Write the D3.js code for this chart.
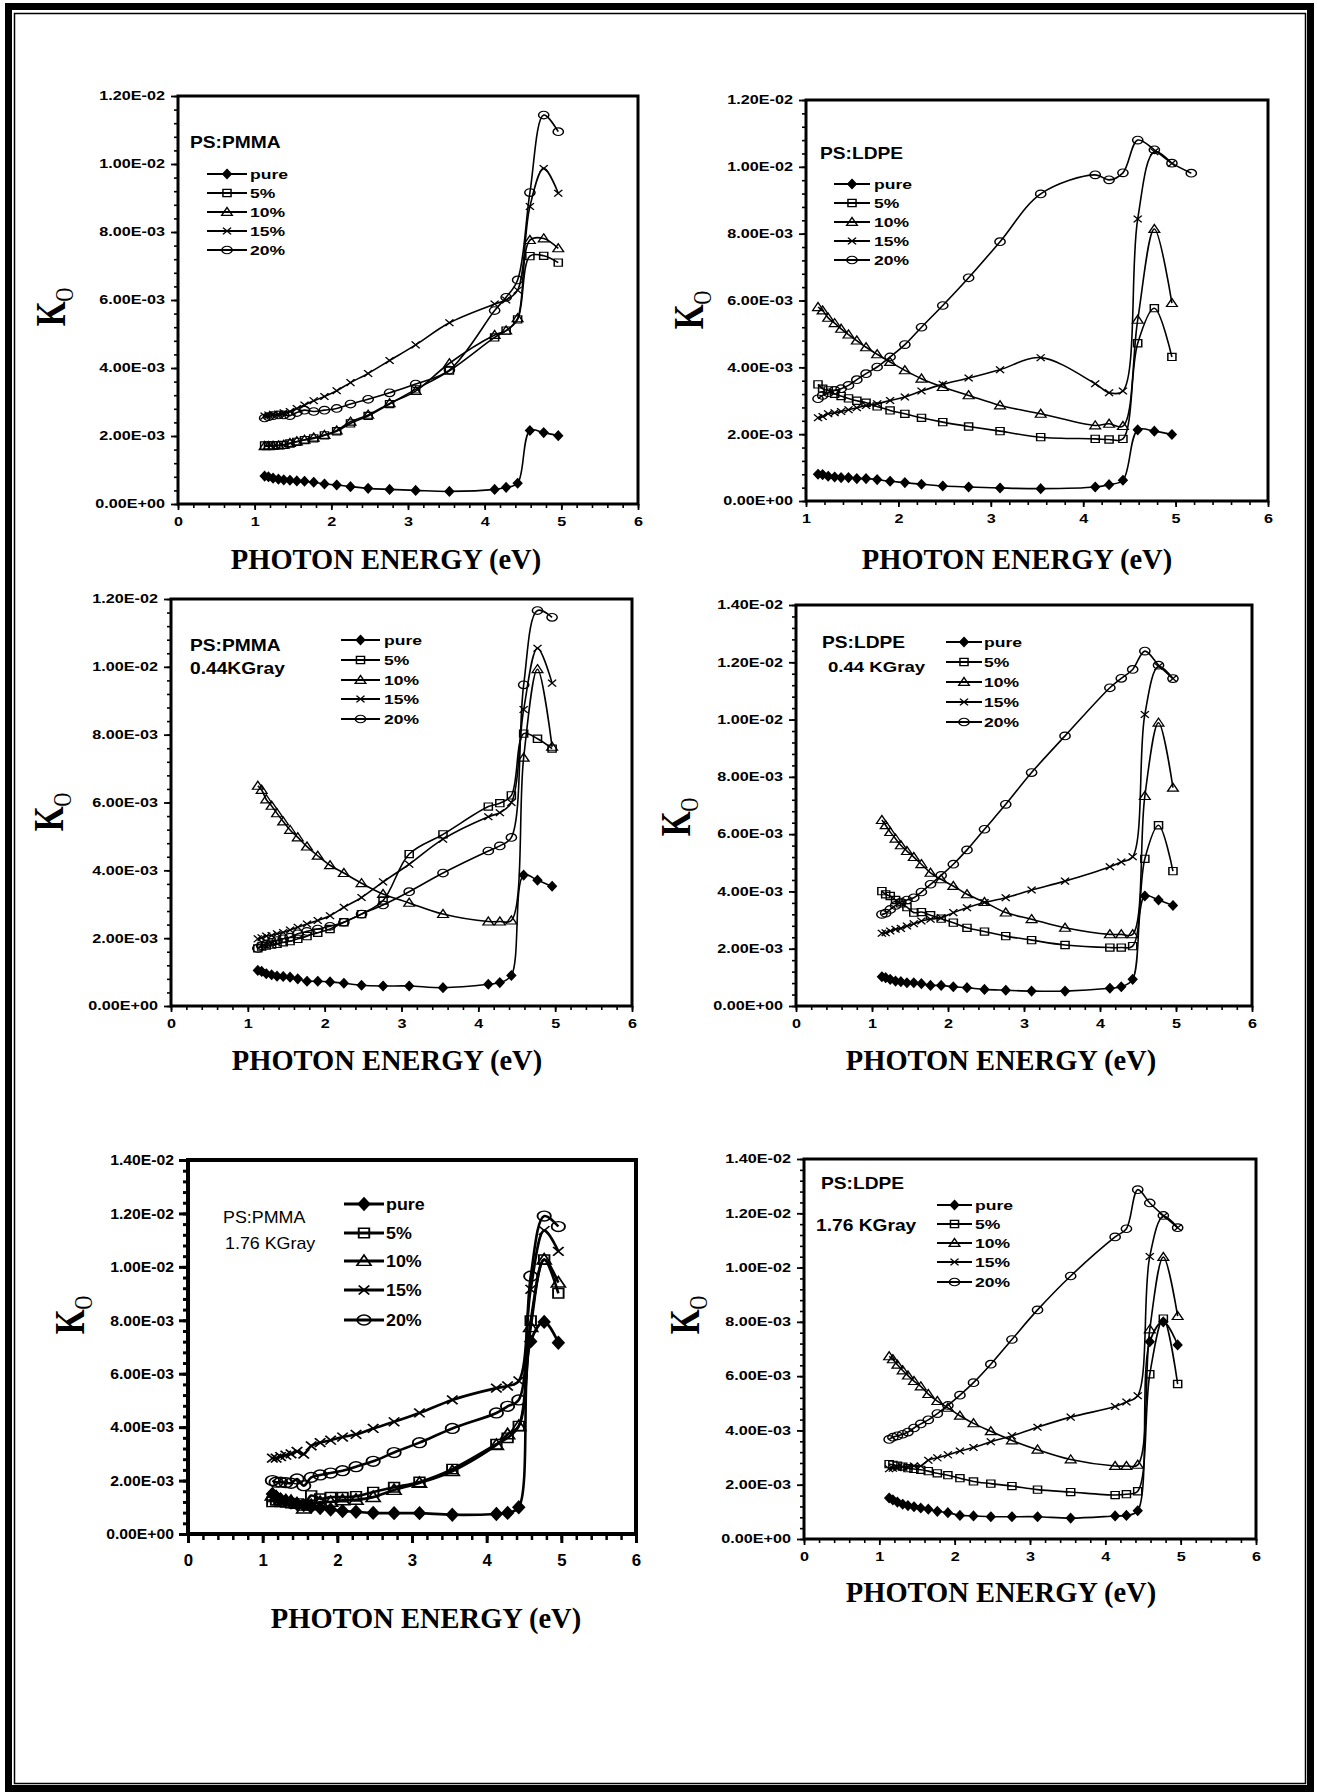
<!DOCTYPE html>
<html><head><meta charset="utf-8">
<script src="https://cdn.jsdelivr.net/npm/d3@7"></script>
<style>body{margin:0;background:#fff}svg{display:block}</style>
</head><body>
<svg id="c" width="1317" height="1792"></svg>
<script>
// ---------------- DATA ----------------
const seriesNames = ["pure", "5%", "10%", "15%", "20%"];
const energy = [1.13, 1.18, 1.24, 1.31, 1.38, 1.46, 1.55, 1.65, 1.77, 1.91, 2.07, 2.25, 2.48, 2.76, 3.10, 3.54, 4.13, 4.28, 4.43, 4.59, 4.77, 4.96];
const energyExt = [1.13, 1.18, 1.24, 1.31, 1.38, 1.46, 1.55, 1.65, 1.77, 1.91, 2.07, 2.25, 2.48, 2.76, 3.10, 3.54, 4.13, 4.28, 4.43, 4.59, 4.77, 4.96, 5.17];

const yTickLabels12 = ["0.00E+00", "2.00E-03", "4.00E-03", "6.00E-03", "8.00E-03", "1.00E-02", "1.20E-02"];
const yTickLabels14 = ["0.00E+00", "2.00E-03", "4.00E-03", "6.00E-03", "8.00E-03", "1.00E-02", "1.20E-02", "1.40E-02"];
const xTickLabels0 = ["0", "1", "2", "3", "4", "5", "6"];
const xTickLabels1 = ["1", "2", "3", "4", "5", "6"];

// Panel 1: PS:PMMA (unirradiated)
const pmma0_pure = [0.82e-3, 0.80e-3, 0.76e-3, 0.73e-3, 0.71e-3, 0.70e-3, 0.68e-3, 0.67e-3, 0.64e-3, 0.59e-3, 0.56e-3, 0.51e-3, 0.46e-3, 0.43e-3, 0.40e-3, 0.37e-3, 0.43e-3, 0.49e-3, 0.61e-3, 2.16e-3, 2.10e-3, 2.01e-3];
const pmma0_5 = [1.72e-3, 1.72e-3, 1.72e-3, 1.73e-3, 1.74e-3, 1.78e-3, 1.83e-3, 1.88e-3, 1.93e-3, 2.02e-3, 2.14e-3, 2.37e-3, 2.59e-3, 2.94e-3, 3.37e-3, 3.92e-3, 4.90e-3, 5.10e-3, 5.43e-3, 7.29e-3, 7.30e-3, 7.10e-3];
const pmma0_10 = [1.70e-3, 1.70e-3, 1.71e-3, 1.72e-3, 1.74e-3, 1.79e-3, 1.84e-3, 1.89e-3, 1.95e-3, 2.03e-3, 2.16e-3, 2.42e-3, 2.62e-3, 2.96e-3, 3.32e-3, 4.14e-3, 4.97e-3, 5.10e-3, 5.46e-3, 7.76e-3, 7.81e-3, 7.52e-3];
const pmma0_15 = [2.59e-3, 2.62e-3, 2.64e-3, 2.65e-3, 2.68e-3, 2.72e-3, 2.81e-3, 2.91e-3, 3.04e-3, 3.16e-3, 3.33e-3, 3.57e-3, 3.84e-3, 4.22e-3, 4.68e-3, 5.33e-3, 5.88e-3, 6.00e-3, 6.29e-3, 8.75e-3, 9.87e-3, 9.14e-3];
const pmma0_20 = [2.53e-3, 2.57e-3, 2.60e-3, 2.62e-3, 2.62e-3, 2.60e-3, 2.69e-3, 2.76e-3, 2.72e-3, 2.76e-3, 2.81e-3, 2.94e-3, 3.08e-3, 3.27e-3, 3.53e-3, 3.94e-3, 5.69e-3, 6.08e-3, 6.59e-3, 9.16e-3, 11.44e-3, 10.95e-3];

// Panel 2: PS:LDPE (unirradiated)
const ldpe0_pure = [0.80e-3, 0.79e-3, 0.74e-3, 0.72e-3, 0.70e-3, 0.70e-3, 0.67e-3, 0.67e-3, 0.64e-3, 0.59e-3, 0.55e-3, 0.50e-3, 0.45e-3, 0.42e-3, 0.39e-3, 0.37e-3, 0.42e-3, 0.49e-3, 0.62e-3, 2.13e-3, 2.09e-3, 1.99e-3];
const ldpe0_5 = [3.49e-3, 3.36e-3, 3.31e-3, 3.21e-3, 3.14e-3, 3.07e-3, 3.00e-3, 2.94e-3, 2.83e-3, 2.71e-3, 2.61e-3, 2.49e-3, 2.36e-3, 2.23e-3, 2.09e-3, 1.91e-3, 1.86e-3, 1.84e-3, 1.86e-3, 4.72e-3, 5.77e-3, 4.31e-3];
const ldpe0_10 = [5.80e-3, 5.70e-3, 5.48e-3, 5.32e-3, 5.15e-3, 4.98e-3, 4.80e-3, 4.60e-3, 4.39e-3, 4.16e-3, 3.91e-3, 3.66e-3, 3.41e-3, 3.16e-3, 2.86e-3, 2.61e-3, 2.26e-3, 2.31e-3, 2.24e-3, 5.42e-3, 8.14e-3, 5.92e-3];
const ldpe0_15 = [2.49e-3, 2.53e-3, 2.61e-3, 2.64e-3, 2.68e-3, 2.73e-3, 2.79e-3, 2.86e-3, 2.91e-3, 3.01e-3, 3.11e-3, 3.29e-3, 3.49e-3, 3.68e-3, 3.93e-3, 4.29e-3, 3.51e-3, 3.24e-3, 3.29e-3, 8.44e-3, 10.45e-3, 10.10e-3];
const ldpe0_20 = [3.06e-3, 3.16e-3, 3.24e-3, 3.31e-3, 3.36e-3, 3.46e-3, 3.63e-3, 3.81e-3, 4.01e-3, 4.31e-3, 4.68e-3, 5.20e-3, 5.85e-3, 6.68e-3, 7.76e-3, 9.19e-3, 9.76e-3, 9.61e-3, 9.82e-3, 10.80e-3, 10.51e-3, 10.11e-3, 9.81e-3];

// Panel 3: PS:PMMA 0.44 KGray
const pmma44_pure = [1.05e-3, 1.02e-3, 0.95e-3, 0.92e-3, 0.88e-3, 0.87e-3, 0.85e-3, 0.80e-3, 0.73e-3, 0.73e-3, 0.71e-3, 0.67e-3, 0.61e-3, 0.59e-3, 0.59e-3, 0.54e-3, 0.64e-3, 0.69e-3, 0.90e-3, 3.86e-3, 3.71e-3, 3.53e-3];
const pmma44_5 = [1.70e-3, 1.75e-3, 1.78e-3, 1.81e-3, 1.83e-3, 1.88e-3, 1.91e-3, 1.98e-3, 2.06e-3, 2.16e-3, 2.27e-3, 2.47e-3, 2.71e-3, 3.11e-3, 4.48e-3, 5.06e-3, 5.88e-3, 5.98e-3, 6.21e-3, 8.03e-3, 7.88e-3, 7.59e-3];
const pmma44_10 = [6.49e-3, 6.37e-3, 6.09e-3, 5.90e-3, 5.68e-3, 5.44e-3, 5.19e-3, 4.97e-3, 4.70e-3, 4.43e-3, 4.15e-3, 3.92e-3, 3.62e-3, 3.30e-3, 3.04e-3, 2.71e-3, 2.49e-3, 2.49e-3, 2.52e-3, 7.32e-3, 9.93e-3, 7.64e-3];
const pmma44_15 = [1.98e-3, 2.01e-3, 2.06e-3, 2.08e-3, 2.13e-3, 2.17e-3, 2.24e-3, 2.32e-3, 2.42e-3, 2.52e-3, 2.66e-3, 2.91e-3, 3.20e-3, 3.66e-3, 4.18e-3, 4.92e-3, 5.58e-3, 5.70e-3, 6.00e-3, 8.74e-3, 10.55e-3, 9.52e-3];
const pmma44_20 = [1.70e-3, 1.78e-3, 1.83e-3, 1.88e-3, 1.93e-3, 1.98e-3, 2.03e-3, 2.13e-3, 2.20e-3, 2.27e-3, 2.35e-3, 2.47e-3, 2.71e-3, 2.98e-3, 3.37e-3, 3.92e-3, 4.57e-3, 4.72e-3, 4.97e-3, 9.47e-3, 11.66e-3, 11.46e-3];

// Panel 4: PS:LDPE 0.44 KGray
const ldpe44_pure = [1.02e-3, 0.99e-3, 0.93e-3, 0.87e-3, 0.85e-3, 0.81e-3, 0.81e-3, 0.78e-3, 0.72e-3, 0.72e-3, 0.67e-3, 0.64e-3, 0.58e-3, 0.55e-3, 0.52e-3, 0.52e-3, 0.62e-3, 0.67e-3, 0.93e-3, 3.84e-3, 3.70e-3, 3.51e-3];
const ldpe44_5 = [4.01e-3, 3.90e-3, 3.84e-3, 3.70e-3, 3.58e-3, 3.45e-3, 3.26e-3, 3.28e-3, 3.17e-3, 3.05e-3, 2.91e-3, 2.73e-3, 2.60e-3, 2.44e-3, 2.30e-3, 2.13e-3, 2.04e-3, 2.04e-3, 2.09e-3, 5.14e-3, 6.31e-3, 4.71e-3];
const ldpe44_10 = [6.49e-3, 6.31e-3, 6.07e-3, 5.84e-3, 5.61e-3, 5.41e-3, 5.20e-3, 4.95e-3, 4.65e-3, 4.42e-3, 4.19e-3, 3.90e-3, 3.63e-3, 3.26e-3, 3.03e-3, 2.73e-3, 2.50e-3, 2.50e-3, 2.50e-3, 7.33e-3, 9.89e-3, 7.62e-3];
const ldpe44_15 = [2.54e-3, 2.56e-3, 2.62e-3, 2.68e-3, 2.71e-3, 2.79e-3, 2.87e-3, 2.97e-3, 3.03e-3, 3.08e-3, 3.26e-3, 3.43e-3, 3.61e-3, 3.78e-3, 4.05e-3, 4.36e-3, 4.86e-3, 5.03e-3, 5.21e-3, 10.18e-3, 11.85e-3, 11.43e-3];
const ldpe44_20 = [3.20e-3, 3.24e-3, 3.37e-3, 3.51e-3, 3.63e-3, 3.70e-3, 3.78e-3, 3.98e-3, 4.25e-3, 4.56e-3, 4.95e-3, 5.45e-3, 6.17e-3, 7.04e-3, 8.15e-3, 9.43e-3, 11.11e-3, 11.44e-3, 11.75e-3, 12.39e-3, 11.90e-3, 11.43e-3];

// Panel 5: PS:PMMA 1.76 KGray
const pmma176_pure = [1.50e-3, 1.40e-3, 1.30e-3, 1.24e-3, 1.18e-3, 1.12e-3, 1.08e-3, 1.02e-3, 0.97e-3, 0.92e-3, 0.86e-3, 0.83e-3, 0.79e-3, 0.78e-3, 0.78e-3, 0.72e-3, 0.75e-3, 0.79e-3, 1.00e-3, 7.21e-3, 7.94e-3, 7.16e-3];
const pmma176_5 = [1.20e-3, 1.26e-3, 1.20e-3, 1.18e-3, 1.16e-3, 1.14e-3, 1.07e-3, 1.44e-3, 1.32e-3, 1.38e-3, 1.38e-3, 1.41e-3, 1.57e-3, 1.75e-3, 1.95e-3, 2.43e-3, 3.36e-3, 3.60e-3, 4.04e-3, 7.99e-3, 10.27e-3, 9.01e-3];
const pmma176_10 = [1.44e-3, 1.38e-3, 1.28e-3, 1.25e-3, 1.23e-3, 1.14e-3, 0.95e-3, 1.07e-3, 1.20e-3, 1.20e-3, 1.26e-3, 1.28e-3, 1.38e-3, 1.65e-3, 1.91e-3, 2.35e-3, 3.33e-3, 3.73e-3, 4.04e-3, 7.74e-3, 10.27e-3, 9.41e-3];
const pmma176_15 = [2.84e-3, 2.84e-3, 2.90e-3, 2.95e-3, 3.00e-3, 3.09e-3, 2.99e-3, 3.30e-3, 3.42e-3, 3.51e-3, 3.63e-3, 3.73e-3, 3.95e-3, 4.20e-3, 4.53e-3, 5.02e-3, 5.46e-3, 5.54e-3, 5.73e-3, 9.16e-3, 11.36e-3, 10.58e-3];
const pmma176_20 = [2.00e-3, 1.94e-3, 1.94e-3, 1.92e-3, 1.90e-3, 2.06e-3, 1.81e-3, 2.12e-3, 2.21e-3, 2.28e-3, 2.37e-3, 2.52e-3, 2.72e-3, 3.05e-3, 3.42e-3, 3.95e-3, 4.53e-3, 4.78e-3, 5.02e-3, 9.65e-3, 11.90e-3, 11.51e-3];

// Panel 6: PS:LDPE 1.76 KGray
const ldpe176_pure = [1.51e-3, 1.44e-3, 1.36e-3, 1.28e-3, 1.23e-3, 1.19e-3, 1.14e-3, 1.10e-3, 1.02e-3, 0.97e-3, 0.87e-3, 0.85e-3, 0.82e-3, 0.82e-3, 0.82e-3, 0.77e-3, 0.85e-3, 0.87e-3, 1.04e-3, 7.27e-3, 8.00e-3, 7.15e-3];
const ldpe176_5 = [2.76e-3, 2.73e-3, 2.70e-3, 2.67e-3, 2.61e-3, 2.58e-3, 2.55e-3, 2.50e-3, 2.42e-3, 2.35e-3, 2.24e-3, 2.12e-3, 2.04e-3, 1.95e-3, 1.82e-3, 1.73e-3, 1.62e-3, 1.65e-3, 1.76e-3, 6.07e-3, 8.12e-3, 5.71e-3];
const ldpe176_10 = [6.73e-3, 6.62e-3, 6.42e-3, 6.21e-3, 6.02e-3, 5.82e-3, 5.62e-3, 5.34e-3, 5.08e-3, 4.83e-3, 4.54e-3, 4.26e-3, 3.97e-3, 3.63e-3, 3.29e-3, 2.93e-3, 2.69e-3, 2.69e-3, 2.73e-3, 7.72e-3, 10.39e-3, 8.21e-3];
const ldpe176_15 = [2.59e-3, 2.61e-3, 2.63e-3, 2.65e-3, 2.67e-3, 2.69e-3, 2.69e-3, 2.90e-3, 2.99e-3, 3.10e-3, 3.24e-3, 3.37e-3, 3.58e-3, 3.80e-3, 4.12e-3, 4.49e-3, 4.88e-3, 5.05e-3, 5.28e-3, 10.41e-3, 11.89e-3, 11.47e-3];
const ldpe176_20 = [3.67e-3, 3.75e-3, 3.80e-3, 3.86e-3, 3.94e-3, 4.09e-3, 4.24e-3, 4.39e-3, 4.62e-3, 4.92e-3, 5.30e-3, 5.76e-3, 6.44e-3, 7.35e-3, 8.44e-3, 9.69e-3, 11.13e-3, 11.43e-3, 12.87e-3, 12.38e-3, 11.92e-3, 11.47e-3];

// ---------------- LAYOUT ----------------
const SX = 1.35;      // horizontal stretch of the original figure (ticks, legend, markers)
const TSX = 1.2;      // stretch of the panel captions
const SANS = "'Liberation Sans', Arial, sans-serif";
const SERIF = "'Liberation Serif', 'Times New Roman', serif";
const markerTypes = ["diamond", "square", "triangle", "cross", "circle"];

const panels = [
  { box: [178, 638, 96, 504], xMin: 0, xLabels: xTickLabels0, yLabels: yTickLabels12,
    x: [energy, energy, energy, energy, energy],
    y: [pmma0_pure, pmma0_5, pmma0_10, pmma0_15, pmma0_20],
    titles: [{t: "PS:PMMA", x: 190, y: 148, size: 16, bold: true}],
    legend: {x0: 207, x1: 247, tx: 250, rows: [174, 193, 212, 231, 250]},
    kx: 50, ky: 307, tx: 386, ty: 569 },
  { box: [806, 1268, 100, 501], xMin: 1, xLabels: xTickLabels1, yLabels: yTickLabels12,
    x: [energy, energy, energy, energy, energyExt],
    y: [ldpe0_pure, ldpe0_5, ldpe0_10, ldpe0_15, ldpe0_20],
    titles: [{t: "PS:LDPE", x: 820, y: 159, size: 16, bold: true}],
    legend: {x0: 834, x1: 870, tx: 874, rows: [184, 203, 222, 241, 260]},
    kx: 688, ky: 310, tx: 1017, ty: 569 },
  { box: [171, 632, 599, 1006], xMin: 0, xLabels: xTickLabels0, yLabels: yTickLabels12,
    x: [energy, energy, energy, energy, energy],
    y: [pmma44_pure, pmma44_5, pmma44_10, pmma44_15, pmma44_20],
    titles: [{t: "PS:PMMA", x: 190, y: 651, size: 16, bold: true}, {t: "0.44KGray", x: 190, y: 674, size: 16, bold: true}],
    legend: {x0: 341, x1: 380, tx: 384, rows: [640, 660, 680, 699, 719]},
    kx: 48, ky: 812, tx: 387, ty: 1070 },
  { box: [796, 1252, 605, 1006], xMin: 0, xLabels: xTickLabels0, yLabels: yTickLabels14,
    x: [energy, energy, energy, energy, energy],
    y: [ldpe44_pure, ldpe44_5, ldpe44_10, ldpe44_15, ldpe44_20],
    titles: [{t: "PS:LDPE", x: 822, y: 648, size: 16, bold: true}, {t: "0.44 KGray", x: 828, y: 672, size: 15.5, bold: true}],
    legend: {x0: 946, x1: 982, tx: 984, rows: [642, 662, 682, 702, 722]},
    kx: 675, ky: 817, tx: 1001, ty: 1070 },
  { box: [188, 636, 1160, 1534], xMin: 0, xLabels: xTickLabels0, yLabels: yTickLabels14, heavy: true,
    x: [energy, energy, energy, energy, energy],
    y: [pmma176_pure, pmma176_5, pmma176_10, pmma176_15, pmma176_20],
    titles: [{t: "PS:PMMA", x: 223, y: 1223, size: 17, bold: false}, {t: "1.76 KGray", x: 225, y: 1249, size: 17, bold: false}],
    legend: {x0: 344, x1: 384, tx: 386, rows: [1204, 1233, 1261, 1290, 1320]},
    kx: 69, ky: 1315, tx: 426, ty: 1628 },
  { box: [804, 1256, 1159, 1539], xMin: 0, xLabels: xTickLabels0, yLabels: yTickLabels14,
    x: [energy, energy, energy, energy, energy],
    y: [ldpe176_pure, ldpe176_5, ldpe176_10, ldpe176_15, ldpe176_20],
    titles: [{t: "PS:LDPE", x: 821, y: 1189, size: 16, bold: true}, {t: "1.76 KGray", x: 816, y: 1231, size: 16, bold: true}],
    legend: {x0: 937, x1: 972, tx: 975, rows: [1205, 1224, 1243, 1262, 1282]},
    kx: 684, ky: 1315, tx: 1001, ty: 1602 }
];

// ---------------- DRAWING ----------------
const svg = d3.select("#c");
svg.append("rect").attr("width", 1317).attr("height", 1792).attr("fill", "#fff");
// page border
svg.append("rect").attr("x", 8.5).attr("y", 6.5).attr("width", 1302).attr("height", 1782)
  .attr("fill", "none").attr("stroke", "#000").attr("stroke-width", 7);
svg.append("rect").attr("x", 14.5).attr("y", 13.5).attr("width", 1291).attr("height", 1770)
  .attr("fill", "none").attr("stroke", "#000").attr("stroke-width", 1.5);

function markerPath(type, k) {
  switch (type) {
    case "diamond": return `M0,${-4.6*k}L${3.2*k},0L0,${4.6*k}L${-3.2*k},0Z`;
    case "square": return `M${-3*k},${-3.6*k}h${6*k}v${7.2*k}h${-6*k}Z`;
    case "triangle": return `M0,${-4.6*k}L${4*k},${3.4*k}L${-4*k},${3.4*k}Z`;
    case "cross": return `M${-3*k},${-3.4*k}L${3*k},${3.4*k}M${-3*k},${3.4*k}L${3*k},${-3.4*k}`;
    case "circle": { const r = 3.8*k; return `M${-r},0a${r},${r} 0 1,0 ${2*r},0a${r},${r} 0 1,0 ${-2*r},0Z`; }
  }
}
function addMarker(g, type, cx, cy, k, sw) {
  g.append("path").attr("d", markerPath(type, k))
    .attr("transform", `translate(${cx},${cy}) scale(${SX},1)`)
    .attr("fill", type === "diamond" ? "#000" : "none")
    .attr("stroke", "#000").attr("stroke-width", sw);
}
function stretchedText(g, t, x, y, opts) {
  return g.append("text").text(t)
    .attr("transform", `translate(${x},${y}) scale(${opts.sx || SX},1)`)
    .attr("font-family", opts.family || SANS)
    .attr("font-weight", opts.bold === false ? "normal" : "bold")
    .attr("font-size", opts.size)
    .attr("text-anchor", opts.anchor || "start")
    .attr("fill", "#000");
}

panels.forEach(p => {
  const [L, R, T, B] = p.box;
  const heavy = !!p.heavy;
  const g = svg.append("g");
  const yMax = parseFloat(p.yLabels[p.yLabels.length - 1]);
  const x = d3.scaleLinear().domain([p.xMin, 6]).range([L, R]);
  const y = d3.scaleLinear().domain([0, yMax]).range([B, T]);

  // minor ticks
  const yMinor = d3.range(0, yMax + 1e-9, 0.0004);
  g.append("g").attr("transform", `translate(${L},0)`)
    .call(d3.axisLeft(y).tickValues(yMinor).tickFormat("").tickSize(heavy ? 5 : 4))
    .call(a => { a.select(".domain").remove(); a.selectAll("line").attr("stroke-width", heavy ? 3 : 1.6); });
  const xMinor = d3.range(p.xMin, 6 + 1e-9, 0.2);
  g.append("g").attr("transform", `translate(0,${B})`)
    .call(d3.axisBottom(x).tickValues(xMinor).tickFormat("").tickSize(heavy ? 6 : 4))
    .call(a => { a.select(".domain").remove(); a.selectAll("line").attr("stroke-width", heavy ? 2.5 : 1.6); });

  // major y axis
  const yVals = p.yLabels.map(s => parseFloat(s));
  const tickFS = heavy ? 15 : 12;
  const tickSX = heavy ? 1.05 : SX;
  g.append("g").attr("transform", `translate(${L},0)`)
    .call(d3.axisLeft(y).tickValues(yVals).tickFormat((d, i) => p.yLabels[i]).tickSize(heavy ? 9 : 7).tickPadding(4))
    .call(a => {
      a.select(".domain").remove();
      a.selectAll("line").attr("stroke-width", heavy ? 3 : 1.8);
      a.selectAll("text").attr("font-family", SANS).attr("font-weight", "bold").attr("font-size", tickFS)
        .attr("fill", "#000").attr("x", -(heavy ? 14 : 13) / tickSX).attr("transform", `scale(${tickSX},1)`);
    });
  // major x axis
  const xVals = p.xLabels.map(s => +s);
  g.append("g").attr("transform", `translate(0,${B})`)
    .call(d3.axisBottom(x).tickValues(xVals).tickFormat((d, i) => p.xLabels[i]).tickSize(heavy ? 9 : 6).tickPadding(heavy ? 12 : 7))
    .call(a => {
      a.select(".domain").remove();
      a.selectAll("line").attr("stroke-width", heavy ? 3 : 1.8);
      a.selectAll("text").attr("font-family", SANS).attr("font-weight", "bold").attr("font-size", heavy ? 16 : 12)
        .attr("fill", "#000").attr("transform", `scale(${heavy ? 1.05 : SX},1)`);
    });

  // frame
  g.append("rect").attr("x", L).attr("y", T).attr("width", R - L).attr("height", B - T)
    .attr("fill", "none").attr("stroke", "#000").attr("stroke-width", heavy ? 4 : 3);

  // series
  const line = d3.line().x(d => x(d[0])).y(d => y(d[1])).curve(d3.curveCatmullRom.alpha(0.5));
  const k = heavy ? 1.3 : 1;
  p.y.forEach((vals, si) => {
    const pts = vals.map((v, i) => [p.x[si][i], v]);
    g.append("path").attr("d", line(pts)).attr("fill", "none").attr("stroke", "#000")
      .attr("stroke-width", heavy ? 2.6 : 1.6).attr("stroke-linejoin", "round");
    pts.forEach(d => addMarker(g, markerTypes[si], x(d[0]), y(d[1]), k, heavy ? 1.4 : 1.1));
  });

  // captions
  p.titles.forEach(t => stretchedText(g, t.t, t.x, t.y, {size: t.size, bold: t.bold, sx: heavy ? 1.05 : TSX}));

  // legend
  const lg = p.legend;
  seriesNames.forEach((name, i) => {
    const ry = lg.rows[i];
    g.append("line").attr("x1", lg.x0).attr("x2", lg.x1).attr("y1", ry).attr("y2", ry)
      .attr("stroke", "#000").attr("stroke-width", heavy ? 3 : 1.8);
    addMarker(g, markerTypes[i], (lg.x0 + lg.x1) / 2, ry, k, heavy ? 1.4 : 1.1);
    stretchedText(g, name, lg.tx, ry + (heavy ? 6 : 4.5), {size: heavy ? 17 : 13, sx: heavy ? 1.05 : SX});
  });

  // axis titles
  const kt = g.append("text").attr("transform", `translate(${p.kx},${p.ky}) scale(${SX},1) rotate(-90)`)
    .attr("font-family", SERIF).attr("font-weight", "bold").attr("font-size", 32)
    .attr("text-anchor", "middle").attr("dy", "0.35em").attr("fill", "#000");
  kt.append("tspan").text("K");
  kt.append("tspan").text("O").attr("font-size", 19).attr("dy", "0.3em").attr("font-weight", "normal");

  g.append("text").text("PHOTON ENERGY (eV)").attr("x", p.tx).attr("y", p.ty)
    .attr("font-family", SERIF).attr("font-weight", "bold").attr("font-size", 28.5)
    .attr("text-anchor", "middle").attr("fill", "#000");
});
</script>
</body></html>
